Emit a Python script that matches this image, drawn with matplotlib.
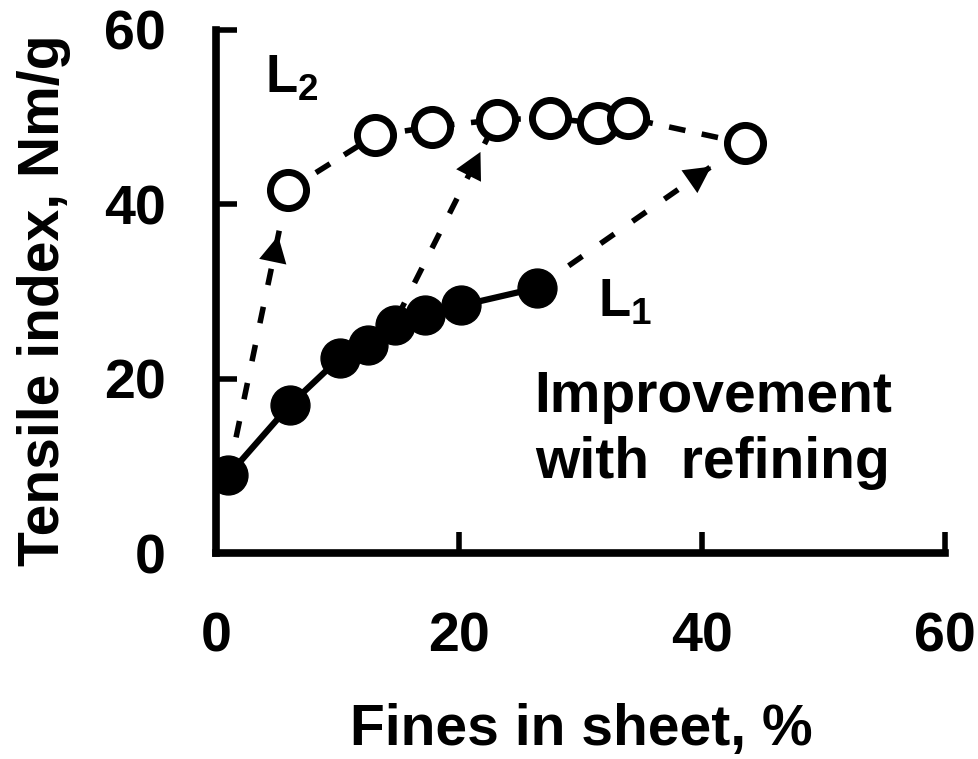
import matplotlib
matplotlib.use("Agg")
import matplotlib.pyplot as plt

# Tensile index vs. fines content for unrefined (L1) and refined (L2) pulps
l1_fines = [1.0, 6.1, 10.2, 12.5, 14.7, 17.2, 20.2, 26.4]
l1_tensile = [8.9, 17.0, 22.4, 23.9, 26.1, 27.3, 28.4, 30.4]

l2_fines = [5.9, 13.1, 17.8, 23.1, 27.5, 31.4, 33.9, 43.5]
l2_tensile = [41.6, 47.9, 48.9, 49.7, 49.9, 49.3, 49.9, 47.0]

# Refining paths: start on L1, end on L2
path_start_x = [1.0, 14.9, 26.4]
path_start_y = [8.9, 27.0, 30.4]
path_end_x = [5.9, 23.1, 43.5]
path_end_y = [41.6, 49.7, 47.0]

xticks = [0, 20, 40, 60]
yticks = [0, 20, 40, 60]

plt.rcParams["font.family"] = ["Liberation Sans", "DejaVu Sans"]
plt.rcParams["mathtext.fontset"] = "custom"
plt.rcParams["mathtext.rm"] = "Liberation Sans:bold"
plt.rcParams["mathtext.bf"] = "Liberation Sans:bold"

fig = plt.figure(figsize=(9.79, 7.59), dpi=100)
ax = fig.add_axes([0.2206, 0.2714, 0.7447, 0.6891])

# dashed refining paths with arrow heads
for sx, sy, ex, ey in zip(path_start_x, path_start_y, path_end_x, path_end_y):
    ax.plot([sx, ex], [sy, ey], color="black", lw=4, ls=(0, (3, 4)), zorder=2)
    tx = sx + 0.85 * (ex - sx)
    ty = sy + 0.85 * (ey - sy)
    bx = sx + 0.73 * (ex - sx)
    by = sy + 0.73 * (ey - sy)
    ax.annotate("", xy=(tx, ty), xytext=(bx, by),
                arrowprops=dict(arrowstyle="-|>,head_length=1.9,head_width=1.0",
                                color="black", lw=0), zorder=3)

ax.plot(l1_fines, l1_tensile, color="black", lw=4.5, marker="o", ms=28,
        mfc="black", mec="black", zorder=4)
ax.plot(l2_fines, l2_tensile, color="black", lw=4, ls=(0, (3, 3)), marker="o",
        ms=26, mfc="white", mec="black", mew=5, zorder=4)

ax.set_xlim(0, 60)
ax.set_ylim(0, 60)
ax.set_xticks(xticks)
ax.set_yticks(yticks)
ax.set_xticklabels([str(t) for t in xticks], fontsize=40, fontweight="bold")
ax.set_yticklabels([str(t) for t in yticks], fontsize=40, fontweight="bold")
ax.tick_params(direction="in", length=15, width=4, color="black")
ax.tick_params(axis="x", pad=42)
ax.tick_params(axis="y", pad=36)
for side in ("top", "right"):
    ax.spines[side].set_visible(False)
for side in ("left", "bottom"):
    ax.spines[side].set_linewidth(5.5)
    ax.spines[side].set_color("black")

fig.text(581 / 979, 14 / 759, "Fines in sheet, %", fontsize=41, fontweight="bold",
         ha="center", va="baseline")
fig.text(44 / 979, 1 - 300 / 759, "Tensile index, Nm/g", fontsize=41,
         fontweight="bold", rotation=90, ha="center", va="center")

ax.text(4.0, 52.9, r"L$_{\mathbf{2}}$", fontsize=38, fontweight="bold",
        ha="left", va="baseline")
ax.text(31.4, 27.2, r"L$_{\mathbf{1}}$", fontsize=38, fontweight="bold",
        ha="left", va="baseline")
ax.text(40.9, 14.1, "Improvement\nwith  refining", fontsize=41, fontweight="bold",
        ha="center", va="center", linespacing=1.3)

fig.savefig("out.png", dpi=100, facecolor="white")
